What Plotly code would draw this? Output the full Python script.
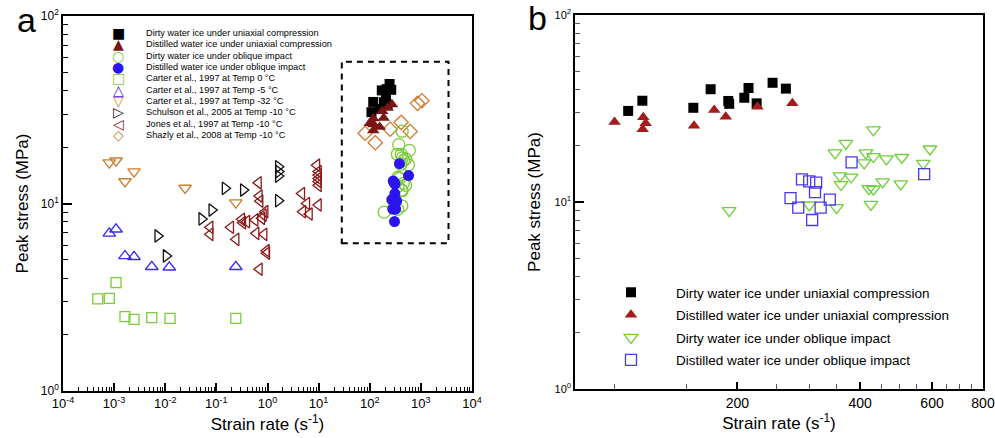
import plotly.graph_objects as go

# ---------------- data (strain rate s^-1, peak stress MPa) ----------------
dirty_uc_rate = [108, 117, 156, 172, 190, 191, 208, 213, 223, 244, 263]
dirty_uc_stress = [30.7, 34.8, 31.9, 40.1, 34.7, 33.5, 36.1, 40.7, 33.7, 43.4, 40.4]

dist_uc_rate = [100, 117.6, 119.2, 117.2, 156.6, 175.5, 187.3, 224, 272.8]
dist_uc_stress = [26.8, 28.4, 26.4, 24.5, 25.6, 31.0, 28.6, 32.3, 33.7]

dirty_oi_rate = [431, 369, 347, 413, 431, 409, 464, 506, 593, 571, 357,
                 380, 359, 454, 503, 420, 431, 300, 350, 425, 191]
dirty_oi_stress = [24.3, 20.6, 18.3, 18.3, 17.5, 16.2, 17.0, 17.3, 19.2, 16.1, 13.8,
                   13.6, 12.4, 12.8, 12.5, 11.8, 11.7, 9.64, 9.32, 9.72, 8.99]

dist_oi_rate = [381, 574, 288, 300, 312, 310, 270, 337, 282, 320, 305]
dist_oi_stress = [16.3, 14.1, 13.2, 12.9, 12.7, 11.3, 10.5, 10.3, 9.32, 9.32, 8.01]

carter0_rate = [4.78e-4, 8.05e-4, 1.09e-3, 1.63e-3, 2.45e-3, 5.45e-3, 1.24e-2, 0.24]
carter0_stress = [3.10, 3.12, 3.78, 2.49, 2.41, 2.46, 2.44, 2.44]

carter5_rate = [8.05e-4, 1.09e-3, 1.63e-3, 2.45e-3, 5.45e-3, 1.20e-2, 0.24]
carter5_stress = [6.93, 7.29, 5.25, 5.20, 4.60, 4.57, 4.60]

carter32_rate = [8.05e-4, 1.09e-3, 2.45e-3, 1.63e-3, 0.0244, 0.24]
carter32_stress = [16.5, 16.9, 14.8, 13.1, 12.1, 10.1]

schulson_rate = [7.13e-3, 1.04e-2, 5.18e-2, 8.13e-2, 0.148, 0.337, 1.63, 1.63, 1.65, 1.63]
schulson_stress = [6.71, 5.25, 8.27, 9.23, 12.05, 11.8, 10.35, 15.7, 14.8, 14.0]

jones_rate = [0.664, 0.693, 0.716, 0.0754, 0.0754, 0.191, 0.243, 0.314, 0.329, 0.394,
              0.571, 0.598, 0.773, 0.832, 0.897, 0.857, 0.968, 0.95, 0.693,
              4.69, 5.87, 4.91, 6.61, 9.91, 9.22, 9.91, 9.91, 9.91, 9.91, 9.91]
jones_stress = [12.9, 10.96, 10.3, 7.47, 6.85, 7.47, 6.44, 8.24, 7.90, 8.0,
                8.17, 6.93, 8.34, 8.68, 9.04, 6.85, 5.43, 5.6, 4.46,
                11.3, 10.0, 9.04, 8.79, 9.82, 16.0, 14.8, 14.2, 13.6, 13.1, 12.5]

shazly_rate = [81.3, 128, 251, 411, 618, 859, 1047]
shazly_stress = [23.7, 21.1, 24.9, 27.1, 24.2, 34.2, 35.3]

# dashed box around present data in panel a (strain rate, stress)
box_rate = [28.4, 3470]
box_stress = [6.13, 57.1]

# tick labels
xa_tickvals = [1e-4, 1e-3, 1e-2, 1e-1, 1e0, 1e1, 1e2, 1e3, 1e4]
xa_ticktext = ["10<sup>-4</sup>", "10<sup>-3</sup>", "10<sup>-2</sup>", "10<sup>-1</sup>",
               "10<sup>0</sup>", "10<sup>1</sup>", "10<sup>2</sup>", "10<sup>3</sup>", "10<sup>4</sup>"]
y_tickvals = [1, 10, 100]
y_ticktext = ["10<sup>0</sup>", "10<sup>1</sup>", "10<sup>2</sup>"]
xb_tickvals = [200, 400, 600, 800]
xb_ticktext = ["200", "400", "600", "800"]
xb_minor = [100, 150, 250, 300, 350, 450, 500, 550, 650, 700, 750]

legend_a_glyphs = ["■", "▲", "○", "●", "□", "△", "▽", "▷", "◁", "◇"]
legend_a_colors = ["#000000", "#7B1414", "#7CCB3A", "#2B14EE", "#7CCB3A",
                   "#3B2AF5", "#CC7E2C", "#111111", "#8B1A1A", "#D07A30"]
legend_a_labels = [
    "Dirty water ice under uniaxial compression",
    "Distilled water ice under uniaxial compression",
    "Dirty water ice under oblique impact",
    "Distilled water ice under oblique impact",
    "Carter et al., 1997 at Temp 0 °C",
    "Carter et al., 1997 at Temp -5 °C",
    "Carter et al., 1997 at Temp -32 °C",
    "Schulson et al., 2005 at Temp -10 °C",
    "Jones et al., 1997 at Temp -10 °C",
    "Shazly et al., 2008 at Temp -10 °C",
]

W, H = 995, 438
FONT = "Liberation Sans, Arial, sans-serif"

fig = go.Figure()

def add_a(x, y, symbol, color, size, lw=1.3):
    fig.add_trace(go.Scatter(
        x=x, y=y, mode="markers", xaxis="x", yaxis="y", showlegend=False,
        marker=dict(symbol=symbol, size=size, color=color, line=dict(color=color, width=lw))))

# panel a literature data
add_a(carter0_rate, carter0_stress, "square-open", "#7CCB3A", 10)
add_a(carter5_rate, carter5_stress, "triangle-up-open", "#3B2AF5", 11)
add_a(carter32_rate, carter32_stress, "triangle-down-open", "#CC7E2C", 11)
add_a(schulson_rate, schulson_stress, "triangle-right-open", "#111111", 11)
add_a(jones_rate, jones_stress, "triangle-left-open", "#8B1A1A", 11)
add_a(shazly_rate, shazly_stress, "diamond-open", "#D07A30", 11)
# panel a present data
add_a(dirty_oi_rate, dirty_oi_stress, "circle-open", "#7CCB3A", 12)
add_a(dist_oi_rate, dist_oi_stress, "circle", "#2B14EE", 11, 0)
add_a(dirty_uc_rate, dirty_uc_stress, "square", "#000000", 10, 0)
add_a(dist_uc_rate, dist_uc_stress, "triangle-up", "#7B1414", 11, 0)

# panel b
def add_b(x, y, symbol, color, size, name, lw=1.3):
    fig.add_trace(go.Scatter(
        x=x, y=y, mode="markers", xaxis="x2", yaxis="y2", name=name, showlegend=True,
        legendgroup=name,
        marker=dict(symbol=symbol, size=size, color=color, line=dict(color=color, width=lw))))

add_b(dirty_uc_rate, dirty_uc_stress, "square", "#000000", 10,
      "Dirty water ice under uniaxial compression", 0)
add_b(dist_uc_rate, dist_uc_stress, "triangle-up", "#A61B1B", 11,
      "Distilled water ice under uniaxial compression", 0)
add_b(dirty_oi_rate, dirty_oi_stress, "triangle-down-open", "#6FCF38", 12,
      "Dirty water ice under oblique impact")
add_b(dist_oi_rate, dist_oi_stress, "square-open", "#4A38F0", 11,
      "Distilled water ice under oblique impact")

axis_common = dict(showgrid=False, zeroline=False, showline=True, linecolor="black",
                   linewidth=1.5, mirror=True, ticks="inside", tickcolor="black",
                   tickwidth=1.5, type="log", automargin=False)

minor_a_x = [m * 10.0 ** e for e in range(-4, 4) for m in range(2, 10)]
minor_y = [m * 10.0 ** e for e in range(0, 2) for m in range(2, 10)]

fig.update_layout(
    template="none",
    width=W, height=H, margin=dict(l=0, r=0, t=0, b=0, autoexpand=False),
    paper_bgcolor="white", plot_bgcolor="white",
    font=dict(family=FONT, color="black"),
    xaxis=dict(**axis_common, domain=[63 / W, 472 / W], anchor="y", range=[-4, 4],
               tickvals=xa_tickvals, ticktext=xa_ticktext, ticklen=8,
               tickfont=dict(size=13),
               minor=dict(ticks="inside", tickvals=minor_a_x, ticklen=4, tickcolor="black", tickwidth=1),
               title=dict(text="Strain rate (s<sup>-1</sup>)", font=dict(size=17), standoff=8)),
    yaxis=dict(**axis_common, domain=[(H - 391) / H, (H - 16) / H], anchor="x", range=[0, 2],
               tickvals=y_tickvals, ticktext=y_ticktext, ticklen=9,
               tickfont=dict(size=12),
               minor=dict(ticks="inside", tickvals=minor_y, ticklen=5, tickcolor="black", tickwidth=1),
               title=dict(text="Peak stress (MPa)", font=dict(size=17), standoff=8)),
    xaxis2=dict(**axis_common, domain=[575 / W, 983 / W], anchor="y2",
                range=[1.90309, 2.90309],
                tickvals=xb_tickvals, ticktext=xb_ticktext, ticklen=7,
                tickfont=dict(size=14),
                minor=dict(ticks="inside", tickvals=xb_minor, ticklen=5, tickcolor="#555", tickwidth=1),
                title=dict(text="Strain rate (s<sup>-1</sup>)", font=dict(size=17), standoff=6)),
    yaxis2=dict(**axis_common, domain=[(H - 389) / H, (H - 15) / H], anchor="x2", range=[0, 2],
                tickvals=y_tickvals, ticktext=y_ticktext, ticklen=9,
                tickfont=dict(size=11),
                minor=dict(ticks="inside", tickvals=minor_y, ticklen=5, tickcolor="#555", tickwidth=1),
                title=dict(text="Peak stress (MPa)", font=dict(size=17), standoff=10)),
    legend=dict(x=586 / W, y=1 - 277 / H, xanchor="left", yanchor="top",
                bgcolor="rgba(0,0,0,0)", borderwidth=0, tracegroupgap=2,
                font=dict(size=13.5, family=FONT), itemwidth=80),
    showlegend=True,
)

# dashed box
fig.add_shape(type="rect", xref="x", yref="y", x0=box_rate[0], x1=box_rate[1],
              y0=box_stress[0], y1=box_stress[1],
              line=dict(color="black", width=2, dash="6px,5px"))

# panel letters
fig.add_annotation(x=26 / W, y=1 - 20 / H, xref="paper", yref="paper", text="a",
                   showarrow=False, font=dict(size=34, family=FONT), xanchor="center", yanchor="middle")
fig.add_annotation(x=537 / W, y=1 - 18 / H, xref="paper", yref="paper", text="b",
                   showarrow=False, font=dict(size=34, family=FONT), xanchor="center", yanchor="middle")

# manual legend for panel a (keys + labels, one row each)
for i, (g, c, t) in enumerate(zip(legend_a_glyphs, legend_a_colors, legend_a_labels)):
    yy = 1 - (33 + 11.33 * i) / H
    fig.add_annotation(x=118 / W, y=yy, xref="paper", yref="paper", text=g,
                       showarrow=False, font=dict(size=14, color=c, family="DejaVu Sans"),
                       xanchor="center", yanchor="middle")
    fig.add_annotation(x=144 / W, y=yy, xref="paper", yref="paper", text=t,
                       showarrow=False, font=dict(size=9.2, color="black", family=FONT),
                       xanchor="left", yanchor="middle")

fig.write_html("out.html")
